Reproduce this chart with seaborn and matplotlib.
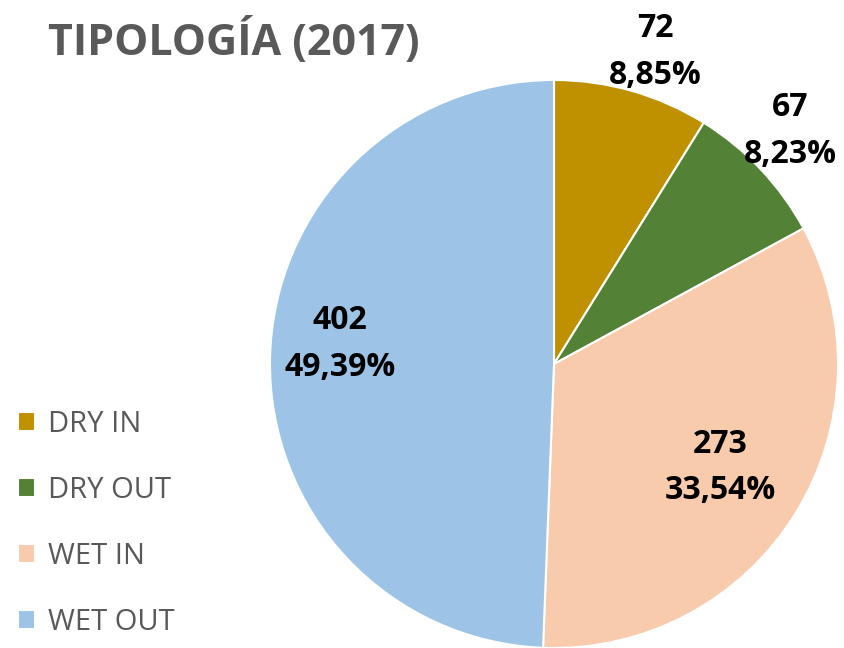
import matplotlib
matplotlib.use("Agg")
import matplotlib.pyplot as plt
import numpy as np
import seaborn as sns

# Data
categories = ["DRY IN", "DRY OUT", "WET IN", "WET OUT"]
counts = [72, 67, 273, 402]
pct_labels = ["8,85%", "8,23%", "33,54%", "49,39%"]
colors = ["#BF9000", "#538135", "#F8CBAD", "#9DC3E6"]

sns.set_theme(style="white")
plt.rcParams["font.family"] = ["Open Sans", "DejaVu Sans"]

fig = plt.figure(figsize=(8.45, 6.48), dpi=100)

# pie centre at pixel (554, 364), radius ~284 px
W = 600
lim = W / 568
ax = fig.add_axes([(554 - W / 2) / 845, (648 - 364 - W / 2) / 648, W / 845, W / 648])

palette = sns.color_palette(colors)
wedges, _ = ax.pie(counts, colors=palette, startangle=90, counterclock=False,
                   wedgeprops=dict(edgecolor="white", linewidth=1.5))
ax.set_xlim(-lim, lim)
ax.set_ylim(-lim, lim)
ax.set_aspect("equal")
ax.axis("off")

# data labels: radius and small angle nudge per slice
label_r = [1.155, 1.168, 0.69, 0.757]
label_da = [-2.0, 1.3, 0.0, -4.2]
for w, n, p, r, da in zip(wedges, counts, pct_labels, label_r, label_da):
    ang = np.deg2rad((w.theta1 + w.theta2) / 2 + da)
    ax.text(r * np.cos(ang), r * np.sin(ang), f"{n}\n{p}", ha="center", va="center",
            fontsize=23, fontweight="bold", color="black", linespacing=1.55,
            clip_on=False)

fig.text(48 / 845, 1 - 41 / 648, "TIPOLOGÍA (2017)", ha="left", va="center",
         fontsize=31, fontweight="bold", color="#595959")

fig.legend(wedges, categories, loc="upper left", bbox_to_anchor=(6 / 845, 1 - 398 / 648),
           frameon=False, fontsize=21, labelcolor="#595959", handlelength=0.6,
           handleheight=0.6, handletextpad=0.45, labelspacing=1.27, borderaxespad=0)

fig.savefig("out.png", dpi=100, facecolor="white")
